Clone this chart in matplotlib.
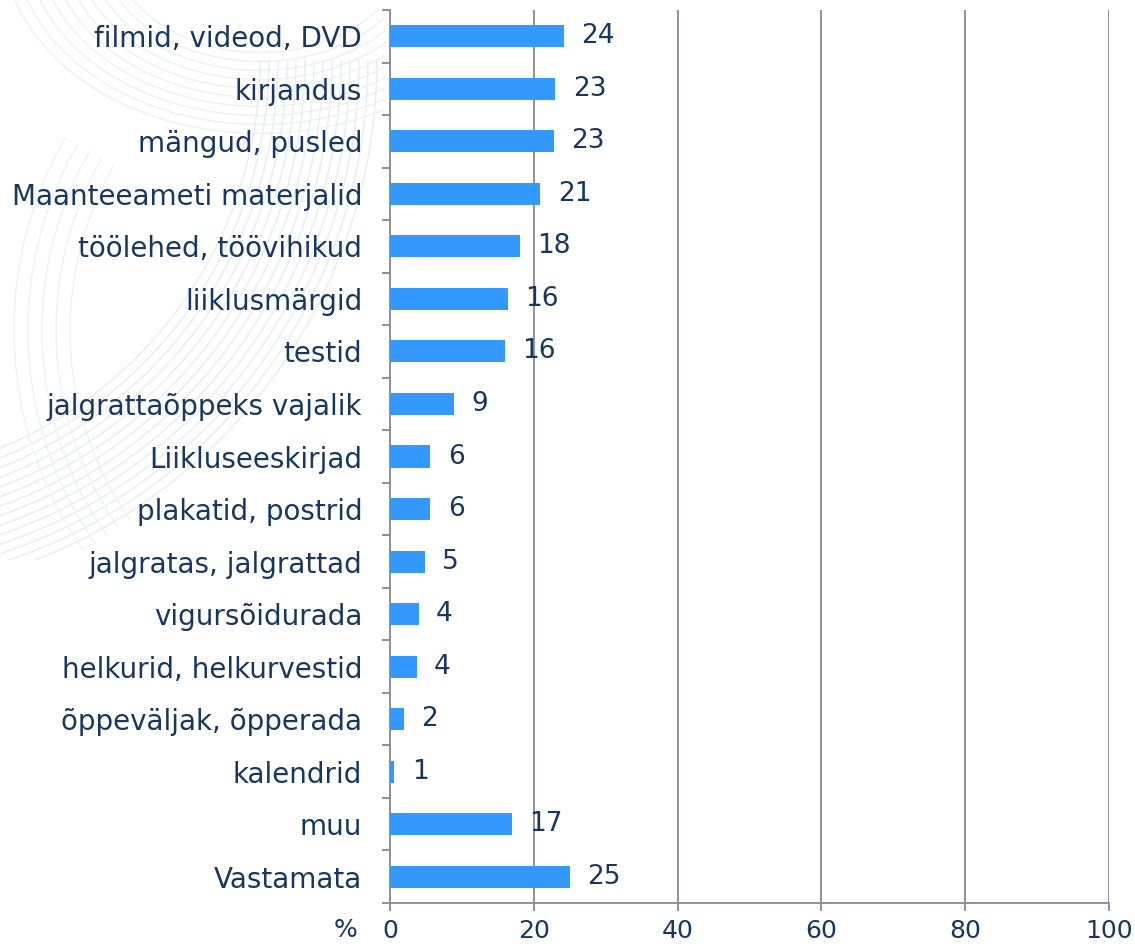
import numpy as np
import matplotlib
matplotlib.use("Agg")
import matplotlib.pyplot as plt
from matplotlib.patches import Arc, Rectangle

categories = [
    "filmid, videod, DVD", "kirjandus", "mängud, pusled",
    "Maanteeameti materjalid", "töölehed, töövihikud", "liiklusmärgid",
    "testid", "jalgrattaõppeks vajalik", "Liikluseeskirjad",
    "plakatid, postrid", "jalgratas, jalgrattad", "vigursõidurada",
    "helkurid, helkurvestid", "õppeväljak, õpperada", "kalendrid",
    "muu", "Vastamata",
]
shares = [24.2, 23.0, 22.8, 20.9, 18.1, 16.4, 16.0, 8.9, 5.6,
          5.6, 4.8, 4.0, 3.7, 1.9, 0.6, 16.9, 25.0]
x_ticks = [0, 20, 40, 60, 80, 100]

navy = "#17375E"
bar_blue = "#3399FF"
grid_gray = "#8E8EA0"

plt.rcParams["font.family"] = ["DejaVu Sans"]

W, H = 1135, 947
fig = plt.figure(figsize=(W / 100, H / 100), dpi=100)

# faint swirl behind the category labels (pixel coords, y from bottom)
bg = fig.add_axes([0, 0, 1, 1], zorder=-1)
bg.set_xlim(0, W)
bg.set_ylim(0, H)
bg.axis("off")
clip = Rectangle((0, H - 560), 385, 560, transform=bg.transData, visible=False)
bg.add_patch(clip)
for r in np.arange(420, 540, 9):
    a = Arc((-160, H - 60), 2 * r, 2 * r, theta1=270, theta2=360,
            color="#E8EBF0", lw=1.0)
    bg.add_patch(a)
    a.set_clip_path(clip)
for r in np.arange(150, 260, 12):
    a = Arc((260, H + 60), 2 * r, 1.5 * r, theta1=180, theta2=330,
            color="#EDEFF3", lw=1.0)
    bg.add_patch(a)
    a.set_clip_path(clip)
for r in np.arange(330, 400, 14):
    a = Arc((400, H - 330), 2 * r, 2 * r, theta1=150, theta2=215,
            color="#EEF0F4", lw=1.0)
    bg.add_patch(a)
    a.set_clip_path(clip)

ax = fig.add_axes([390 / W, 1 - 903 / H, 719 / W, 893 / H])
y = np.arange(len(categories))
ax.barh(y, shares, height=0.42, color=bar_blue, zorder=3)

for yi, v in zip(y, shares):
    ax.annotate(f"{v:.0f}", (v, yi), xytext=(12.5, 0), textcoords="offset points",
                ha="left", va="center", fontsize=19, color=navy, zorder=4)

ax.set_xlim(0, 100)
ax.set_ylim(len(categories) - 0.5, -0.5)
ax.set_xticks(x_ticks)
ax.set_xticklabels([str(t) for t in x_ticks])
ax.set_yticks(y)
ax.set_yticklabels(categories)
ax.set_yticks(np.arange(-0.5, len(categories), 1), minor=True)

ax.tick_params(axis="y", which="major", length=0, pad=20, labelsize=20, labelcolor=navy)
ax.tick_params(axis="y", which="minor", length=6, width=1.4, color=grid_gray, direction="out")
ax.tick_params(axis="x", length=6, width=1.4, color=grid_gray, direction="out",
               pad=5.5, labelsize=18, labelcolor=navy)

ax.xaxis.grid(True, color=grid_gray, lw=1.4, zorder=0)
for s in ["top", "right"]:
    ax.spines[s].set_visible(False)
for s in ["left", "bottom"]:
    ax.spines[s].set_color(grid_gray)
    ax.spines[s].set_linewidth(1.4)
ax.patch.set_alpha(0)

fig.text(357 / W, 1 - 930 / H, "%", fontsize=18, color=navy, ha="right", va="center")

fig.savefig("out.png", dpi=100)
